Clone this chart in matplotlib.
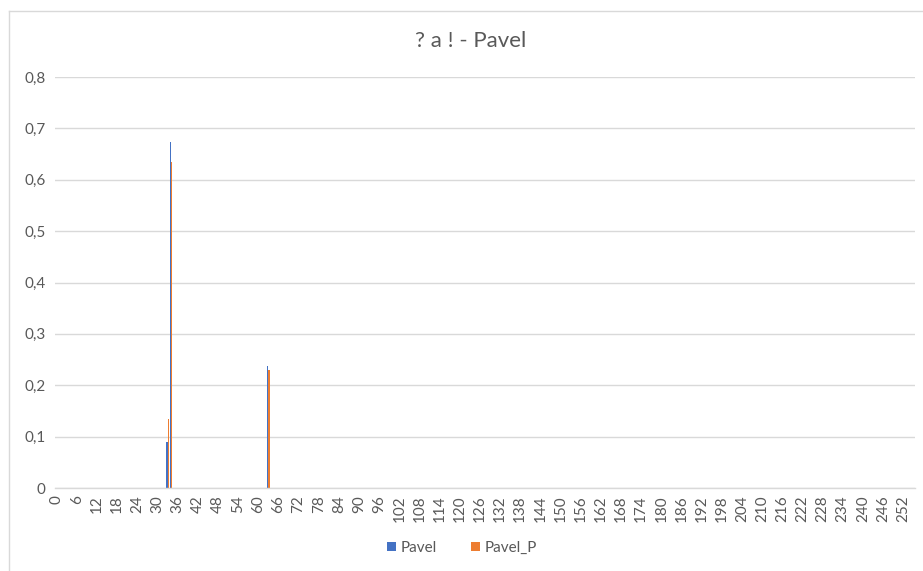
import matplotlib
matplotlib.use("Agg")
import matplotlib.pyplot as plt
from matplotlib.lines import Line2D
import numpy as np

# Histogram bins 0..255
categories = list(range(256))
nonzero_bins = [33, 34, 63]
pavel = [0.090, 0.673, 0.237]
pavel_p = [0.135, 0.635, 0.230]
tick_labels = [str(v) for v in range(0, 253, 6)]
y_ticks = [0, 0.1, 0.2, 0.3, 0.4, 0.5, 0.6, 0.7, 0.8]

series_a = np.zeros(len(categories))
series_b = np.zeros(len(categories))
for b, va, vb in zip(nonzero_bins, pavel, pavel_p):
    series_a[b] = va
    series_b[b] = vb

plt.rcParams['font.family'] = ['Lato', 'DejaVu Sans']
TEXT = '#595959'
GRID = '#D9D9D9'
BLUE = '#4472C4'
ORANGE = '#ED7D31'

W, H = 923, 571
fig = plt.figure(figsize=(W / 100, H / 100), dpi=100)
ax = fig.add_axes([55 / W, (H - 488) / H, (915 - 55) / W, (488 - 77) / H])

x = np.arange(len(categories))
bw = 0.4
ax.bar(x - bw / 2, series_a, width=bw, color=BLUE, label='Pavel', linewidth=0)
ax.bar(x + bw / 2, series_b, width=bw, color=ORANGE, label='Pavel_P', linewidth=0)

ax.set_xlim(-0.5, len(categories) - 0.5)
ax.set_ylim(0, 0.8)
ax.set_yticks(y_ticks)
ax.set_yticklabels([('%.1f' % v).replace('.', ',') if v else '0' for v in y_ticks])
ax.set_xticks(range(0, 253, 6))
ax.set_xticklabels(tick_labels, rotation=90)

ax.tick_params(axis='both', length=0, colors=TEXT, labelsize=11)
ax.tick_params(axis='y', pad=7)
ax.tick_params(axis='x', pad=5)
ax.grid(axis='y', color=GRID, linewidth=1)
ax.set_axisbelow(True)
for side in ('left', 'right', 'top'):
    ax.spines[side].set_visible(False)
ax.spines['bottom'].set_color(GRID)
ax.spines['bottom'].set_linewidth(1)

fig.text(471 / W, 1 - 41 / H, '? a ! - Pavel', ha='center', va='center',
         fontsize=16, color=TEXT)

fig.legend(loc='center', bbox_to_anchor=(462 / W, 1 - 548 / H), ncol=2,
           frameon=False, fontsize=11, labelcolor=TEXT, handlelength=0.6,
           handleheight=0.6, handletextpad=0.3, columnspacing=2.2)

# Chart area border
fig.add_artist(Line2D([8.5 / W, 8.5 / W], [0, 1 - 10.5 / H], transform=fig.transFigure,
                      color=GRID, linewidth=1))
fig.add_artist(Line2D([8.5 / W, 1], [1 - 10.5 / H, 1 - 10.5 / H], transform=fig.transFigure,
                      color=GRID, linewidth=1))

fig.savefig('out.png', dpi=100, facecolor='white')
